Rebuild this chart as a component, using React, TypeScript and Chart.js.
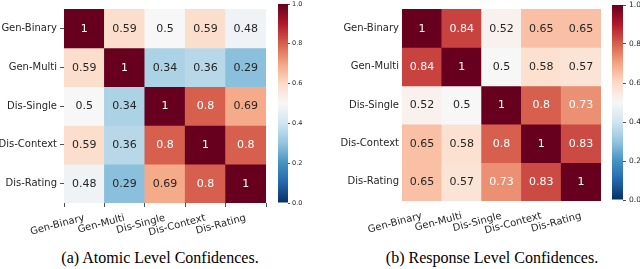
import React, { useEffect, useRef } from 'react';
import { Chart, registerables } from 'chart.js';

Chart.register(...registerables);

const labels = ['Gen-Binary', 'Gen-Multi', 'Dis-Single', 'Dis-Context', 'Dis-Rating'];

const atomicGenBinary = [1, 0.59, 0.5, 0.59, 0.48];
const atomicGenMulti = [0.59, 1, 0.34, 0.36, 0.29];
const atomicDisSingle = [0.5, 0.34, 1, 0.8, 0.69];
const atomicDisContext = [0.59, 0.36, 0.8, 1, 0.8];
const atomicDisRating = [0.48, 0.29, 0.69, 0.8, 1];

const responseGenBinary = [1, 0.84, 0.52, 0.65, 0.65];
const responseGenMulti = [0.84, 1, 0.5, 0.58, 0.57];
const responseDisSingle = [0.52, 0.5, 1, 0.8, 0.73];
const responseDisContext = [0.65, 0.58, 0.8, 1, 0.83];
const responseDisRating = [0.65, 0.57, 0.73, 0.83, 1];

const atomicRows = [atomicGenBinary, atomicGenMulti, atomicDisSingle, atomicDisContext, atomicDisRating];
const responseRows = [responseGenBinary, responseGenMulti, responseDisSingle, responseDisContext, responseDisRating];

const colorbarRange = [0, 1];
const colorbarTicks = [0, 0.2, 0.4, 0.6, 0.8, 1.0];

const captionA = '(a) Atomic Level Confidences.';
const captionB = '(b) Response Level Confidences.';

// RdBu_r colormap stops
const RDBU_R = ['#053061', '#2166ac', '#4393c3', '#92c5de', '#d1e5f0', '#f7f7f7', '#fddbc7', '#f4a582', '#d6604d', '#b2182b', '#67001f'];

function hexToRgb(h: string): number[] {
  return [parseInt(h.slice(1, 3), 16), parseInt(h.slice(3, 5), 16), parseInt(h.slice(5, 7), 16)];
}

function cmap(v: number): number[] {
  const t = Math.min(1, Math.max(0, v)) * 10;
  const i = Math.min(9, Math.floor(t));
  const f = t - i;
  const a = hexToRgb(RDBU_R[i]);
  const b = hexToRgb(RDBU_R[i + 1]);
  return [0, 1, 2].map((k) => Math.round(a[k] + (b[k] - a[k]) * f));
}

function rgbStr(c: number[]) {
  return `rgb(${c[0]},${c[1]},${c[2]})`;
}

function luminance(c: number[]) {
  const lin = c.map((x) => {
    const s = x / 255;
    return s <= 0.03928 ? s / 12.92 : Math.pow((s + 0.055) / 1.055, 2.4);
  });
  return 0.2126 * lin[0] + 0.7152 * lin[1] + 0.0722 * lin[2];
}

const FONT = 'DejaVu Sans';
const TEXT = '#262626';

type HeatProps = {
  rows: number[][];
  left: number;
  top: number;
  width: number;
  height: number;
  yAxisWidth: number;
  xAxisHeight: number;
  padTop: number;
  padRight: number;
  showTicks: boolean;
  xPad: number;
};

function Heatmap(p: HeatProps) {
  const ref = useRef<HTMLCanvasElement>(null);
  useEffect(() => {
    if (!ref.current) return;
    const rows = p.rows;
    const annotate = {
      id: 'annotate',
      afterDatasetsDraw(chart: any) {
        const ctx = chart.ctx;
        ctx.save();
        ctx.font = `11px "${FONT}"`;
        ctx.textAlign = 'center';
        ctx.textBaseline = 'middle';
        chart.data.datasets.forEach((_: any, r: number) => {
          const meta = chart.getDatasetMeta(r);
          meta.data.forEach((el: any, c: number) => {
            const v = rows[r][c];
            const col = cmap(v);
            ctx.fillStyle = luminance(col) < 0.408 ? '#ffffff' : TEXT;
            const pr = el.getProps(['x', 'y', 'base'], true);
            ctx.fillText(String(v), pr.x, (pr.y + pr.base) / 2 + 0.5);
          });
        });
        ctx.restore();
      },
    };
    const chart = new Chart(ref.current, {
      type: 'bar',
      data: {
        labels,
        datasets: rows.map((row, r) => ({
          label: labels[r],
          data: row.map(() => [r - 0.5, r + 0.5]),
          backgroundColor: row.map((v) => rgbStr(cmap(v))),
          borderWidth: 0,
          barPercentage: 1,
          categoryPercentage: 1,
          grouped: false,
        })),
      } as any,
      options: {
        animation: false,
        responsive: false,
        maintainAspectRatio: false,
        layout: { padding: { top: p.padTop, right: p.padRight, left: 0, bottom: 0 } },
        plugins: { legend: { display: false }, tooltip: { enabled: false } },
        scales: {
          x: {
            type: 'category',
            offset: true,
            grid: { display: true, drawOnChartArea: false, drawTicks: p.showTicks, tickLength: 4, color: TEXT, lineWidth: 0.8 },
            border: { display: false },
            ticks: { minRotation: 15, maxRotation: 15, autoSkip: false, font: { family: FONT, size: 10 }, color: TEXT, padding: p.xPad },
            afterFit: (s: any) => { s.height = p.xAxisHeight; },
          },
          y: {
            type: 'linear',
            min: -0.5,
            max: 4.5,
            reverse: true,
            afterBuildTicks: (s: any) => { s.ticks = labels.map((_, i) => ({ value: i })); },
            grid: { display: true, drawOnChartArea: false, drawTicks: p.showTicks, tickLength: 4, color: TEXT, lineWidth: 0.8 },
            border: { display: false },
            ticks: { callback: (_v: any, i: number) => labels[i], font: { family: FONT, size: 10 }, color: TEXT, padding: 3 },
            afterFit: (s: any) => { s.width = p.yAxisWidth; },
          },
        },
      } as any,
      plugins: [annotate],
    });
    return () => chart.destroy();
  }, []);
  return (
    <canvas
      ref={ref}
      width={p.width}
      height={p.height}
      style={{ position: 'absolute', left: p.left, top: p.top, width: p.width, height: p.height }}
    />
  );
}

type CbProps = {
  left: number;
  top: number;
  width: number;
  height: number;
  padTop: number;
  padBottom: number;
  axisWidth: number;
  fontSize: number;
  tickLength: number;
  tickPad: number;
};

function Colorbar(p: CbProps) {
  const ref = useRef<HTMLCanvasElement>(null);
  useEffect(() => {
    if (!ref.current) return;
    const chart = new Chart(ref.current, {
      type: 'bar',
      data: {
        labels: [''],
        datasets: [
          {
            data: [[colorbarRange[0], colorbarRange[1]]],
            backgroundColor: (c: any) => {
              const area = c.chart.chartArea;
              if (!area) return '#888';
              const g = c.chart.ctx.createLinearGradient(0, area.bottom, 0, area.top);
              RDBU_R.forEach((col, i) => g.addColorStop(i / (RDBU_R.length - 1), col));
              return g;
            },
            borderWidth: 0,
            barPercentage: 1,
            categoryPercentage: 1,
            inflateAmount: 0,
          },
        ],
      } as any,
      options: {
        animation: false,
        responsive: false,
        maintainAspectRatio: false,
        layout: { padding: { top: p.padTop, bottom: p.padBottom, left: 0, right: 0 } },
        plugins: { legend: { display: false }, tooltip: { enabled: false } },
        scales: {
          x: { display: false, offset: true },
          y: {
            type: 'linear',
            position: 'right',
            min: colorbarRange[0],
            max: colorbarRange[1],
            afterBuildTicks: (s: any) => { s.ticks = colorbarTicks.map((v) => ({ value: v })); },
            grid: { display: true, drawOnChartArea: false, drawTicks: true, tickLength: p.tickLength, color: TEXT, lineWidth: 0.8 },
            border: { display: false },
            ticks: { callback: (v: any) => Number(v).toFixed(1), font: { family: FONT, size: p.fontSize }, color: TEXT, padding: p.tickPad },
            afterFit: (s: any) => { s.width = p.axisWidth; },
          },
        },
      } as any,
    });
    return () => chart.destroy();
  }, []);
  return (
    <canvas
      ref={ref}
      width={p.width}
      height={p.height}
      style={{ position: 'absolute', left: p.left, top: p.top, width: p.width, height: p.height }}
    />
  );
}

export default function App() {
  const captionStyle: React.CSSProperties = {
    position: 'absolute',
    top: 249,
    width: 320,
    textAlign: 'center',
    fontFamily: '"Liberation Serif", "Times New Roman", serif',
    fontSize: 16,
    lineHeight: '18px',
    color: '#000',
    whiteSpace: 'nowrap',
  };
  return (
    <div style={{ position: 'absolute', left: 0, top: 0, width: 640, height: 269, overflow: 'hidden', background: '#fff' }}>
      <Heatmap rows={atomicRows} left={0} top={0} width={270} height={245} yAxisWidth={64} xAxisHeight={42} padTop={3} padRight={4} showTicks={true} xPad={5} />
      <Colorbar left={278} top={-6} width={40} height={219} padTop={10} padBottom={10} axisWidth={30} fontSize={6.5} tickLength={2} tickPad={2} />
      <Heatmap rows={responseRows} left={330} top={0} width={275} height={245} yAxisWidth={72} xAxisHeight={44} padTop={5} padRight={4} showTicks={false} xPad={9} />
      <Colorbar left={612} top={-6} width={41} height={216} padTop={11} padBottom={10} axisWidth={30} fontSize={7.5} tickLength={3} tickPad={3} />
      <div style={{ ...captionStyle, left: 0 }}>{captionA}</div>
      <div style={{ ...captionStyle, left: 332 }}>{captionB}</div>
    </div>
  );
}
